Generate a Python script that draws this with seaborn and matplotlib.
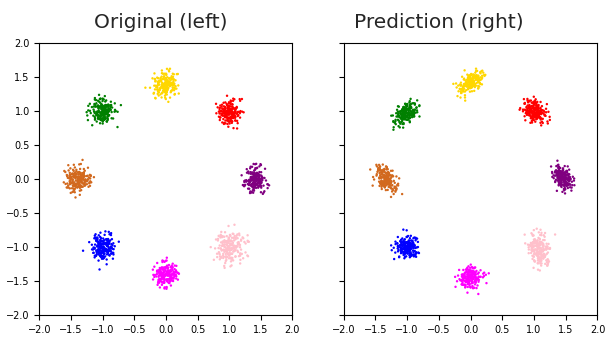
import numpy as np
import pandas as pd
import matplotlib
matplotlib.use("Agg")
import matplotlib.pyplot as plt
import seaborn as sns

# Eight Gaussian components: colours, centres and spreads
colors = ["gold", "red", "purple", "pink", "magenta", "blue", "chocolate", "green"]
n_points = 200

orig_cx = [0.0, 1.0, 1.4, 1.0, 0.0, -1.0, -1.4, -1.0]
orig_cy = [1.4, 1.0, 0.0, -1.0, -1.4, -1.0, 0.0, 1.0]
orig_sx = [0.10, 0.09, 0.09, 0.11, 0.09, 0.09, 0.10, 0.09]
orig_sy = [0.10, 0.09, 0.09, 0.11, 0.09, 0.09, 0.09, 0.09]
orig_rho = [0.0, 0.0, 0.0, 0.0, 0.0, 0.0, 0.0, 0.0]

pred_cx = [0.0, 1.02, 1.45, 1.07, 0.0, -1.0, -1.33, -1.02]
pred_cy = [1.42, 1.0, 0.03, -1.02, -1.45, -1.0, 0.0, 0.98]
pred_sx = [0.10, 0.09, 0.08, 0.08, 0.09, 0.08, 0.09, 0.09]
pred_sy = [0.09, 0.08, 0.09, 0.12, 0.08, 0.08, 0.09, 0.08]
pred_rho = [0.55, -0.25, -0.45, -0.25, 0.15, 0.0, -0.45, 0.45]

rng = np.random.default_rng(7)


def sample(cx, cy, sx, sy, rho):
    frames = []
    for c, x0, y0, a, b, r in zip(colors, cx, cy, sx, sy, rho):
        cov = [[a * a, r * a * b], [r * a * b, b * b]]
        pts = rng.multivariate_normal([x0, y0], cov, size=n_points)
        frames.append(pd.DataFrame({"x": pts[:, 0], "y": pts[:, 1], "comp": c}))
    return pd.concat(frames, ignore_index=True)


orig = sample(orig_cx, orig_cy, orig_sx, orig_sy, orig_rho)
pred = sample(pred_cx, pred_cy, pred_sx, pred_sy, pred_rho)

sns.set_style("ticks", {"axes.edgecolor": "black", "xtick.color": "black",
                        "ytick.color": "black"})
plt.rcParams["font.family"] = ["DejaVu Sans"]

fig = plt.figure(figsize=(6.11, 3.39), dpi=100)
ax1 = fig.add_axes([0.0646, 0.0708, 0.414, 0.8014])
ax2 = fig.add_axes([0.5622, 0.0708, 0.4157, 0.8014], sharey=ax1)

palette = dict(zip(colors, colors))
for ax, df in [(ax1, orig), (ax2, pred)]:
    sns.scatterplot(data=df, x="x", y="y", hue="comp", palette=palette,
                    s=3, linewidth=0, legend=False, ax=ax)
    ax.set_xlim(-2, 2)
    ax.set_ylim(-2, 2)
    ax.set_xticks(np.arange(-2, 2.01, 0.5))
    ax.set_yticks(np.arange(-2, 2.01, 0.5))
    ax.set_xlabel("")
    ax.set_ylabel("")
    ax.tick_params(labelsize=7, length=3.5, width=0.8)
    for sp in ax.spines.values():
        sp.set_linewidth(0.8)

ax2.tick_params(labelleft=False)

fig.text(0.263, 0.935, "Original (left)", ha="center", va="center", fontsize=14.5)
fig.text(0.718, 0.935, "Prediction (right)", ha="center", va="center", fontsize=14.5)

fig.savefig("out.png", dpi=100)
